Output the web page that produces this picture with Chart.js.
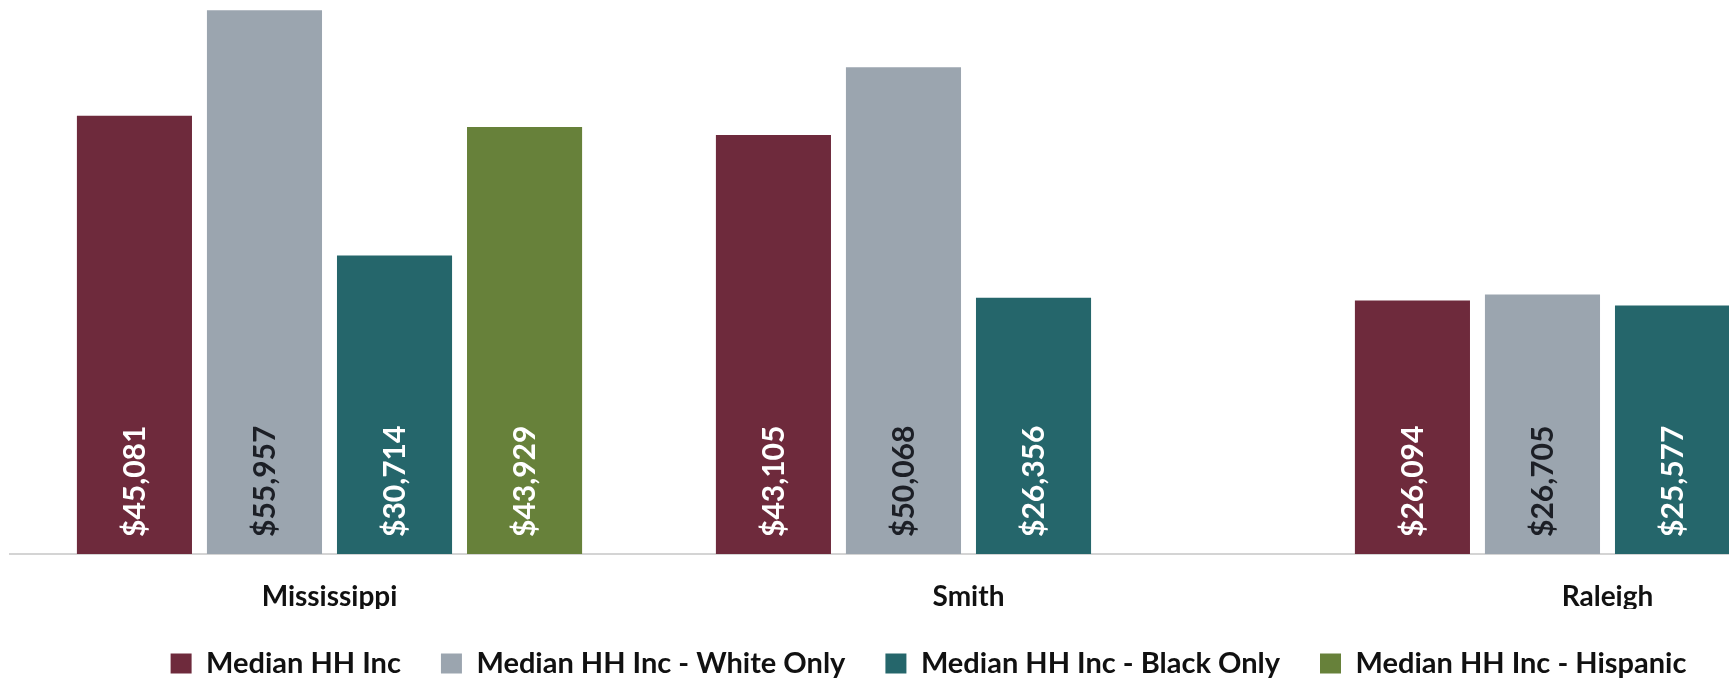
<!DOCTYPE html>
<html>
<head>
<meta charset="utf-8">
<script src="https://cdn.jsdelivr.net/npm/chart.js@4"></script>
<style>
  html, body { margin: 0; padding: 0; background: #ffffff; overflow: hidden; width: 1729px; height: 678px; }
  #wrap { position: absolute; left: -70px; top: 0; width: 1997px; height: 678px; }
</style>
</head>
<body>
<div id="wrap"><canvas id="c"></canvas></div>
<script>
const categories = ["Mississippi", "Smith", "Raleigh"];
const seriesNames = ["Median HH Inc", "Median HH Inc - White Only", "Median HH Inc - Black Only", "Median HH Inc - Hispanic"];
const medianAll = [45081, 43105, 26094];
const medianWhite = [55957, 50068, 26705];
const medianBlack = [30714, 26356, 25577];
const medianHispanic = [43929, null, null];
const seriesColors = ["#6E2A3C", "#9BA5AF", "#25666B", "#67813A"];
const labelColors = ["#ffffff", "#1c1f26", "#ffffff", "#ffffff"];

const FONT = "Lato, Carlito, 'Open Sans', sans-serif";

const barLabels = {
  id: 'barLabels',
  afterDatasetsDraw(chart) {
    const ctx = chart.ctx;
    chart.data.datasets.forEach((ds, di) => {
      const meta = chart.getDatasetMeta(di);
      if (meta.hidden) return;
      meta.data.forEach((bar, i) => {
        const v = ds.data[i];
        if (v === null || v === undefined) return;
        ctx.save();
        ctx.translate(bar.x, bar.base - 17);
        ctx.rotate(-Math.PI / 2);
        ctx.font = "bold 30px " + FONT;
        ctx.fillStyle = labelColors[di];
        ctx.textAlign = 'left';
        ctx.textBaseline = 'middle';
        ctx.fillText('$' + v.toLocaleString('en-US'), 0, 1);
        ctx.restore();
      });
    });
  }
};

const seriesData = [medianAll, medianWhite, medianBlack, medianHispanic];

new Chart(document.getElementById('c'), {
  type: 'bar',
  data: {
    labels: categories,
    datasets: seriesData.map((d, i) => ({
      label: seriesNames[i],
      data: d,
      backgroundColor: seriesColors[i],
      borderWidth: 0,
      categoryPercentage: 0.814,
      barPercentage: 0.885
    }))
  },
  options: {
    responsive: true,
    maintainAspectRatio: false,
    animation: false,
    devicePixelRatio: 1,
    layout: { padding: { top: 0, left: 0, right: 0, bottom: -10 } },
    plugins: {
      tooltip: { enabled: false },
      legend: {
        position: 'bottom',
        labels: {
          boxWidth: 21,
          boxHeight: 20,
          padding: 40,
          color: '#111111',
          font: { family: FONT, size: 29, weight: 'bold' }
        }
      }
    },
    scales: {
      x: {
        grid: { display: false },
        border: { display: true, color: '#d4d4d4', width: 2 },
        ticks: {
          color: '#111111',
          padding: 18,
          font: { family: FONT, size: 28, weight: 'bold' }
        },
        afterFit(scale) { scale.height = 55; }
      },
      y: {
        min: 0,
        max: 57000,
        display: true,
        grid: { display: false },
        border: { display: false },
        ticks: { display: false },
        afterFit(scale) { scale.width = 80; }
      }
    }
  },
  plugins: [barLabels]
});
</script>
</body>
</html>
